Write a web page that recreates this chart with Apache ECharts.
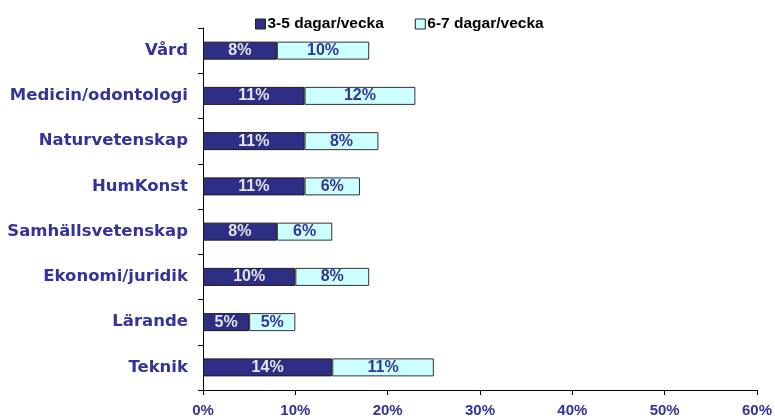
<!DOCTYPE html>
<html>
<head>
<meta charset="utf-8">
<style>
  html, body { margin: 0; padding: 0; background: #ffffff; }
  #chart { width: 775px; height: 420px; }
</style>
<script src="https://cdn.jsdelivr.net/npm/echarts@6/dist/echarts.min.js"></script>
</head>
<body>
<div id="chart"></div>
<script>
// Study areas, listed top to bottom
const categories = ['Vård', 'Medicin/odontologi', 'Naturvetenskap', 'HumKonst',
  'Samhällsvetenskap', 'Ekonomi/juridik', 'Lärande', 'Teknik'];
// Share of students (percent) per frequency group
const days35 = [8, 11, 11, 11, 8, 10, 5, 14];
const days67 = [10, 12, 8, 6, 6, 8, 5, 11];
const seriesNames = ['3-5 dagar/vecka', '6-7 dagar/vecka'];
const xTicks = [0, 10, 20, 30, 40, 50, 60];

const navy = '#333399';
const font = 'Arial, "Liberation Sans", sans-serif';
const wideFont = '"DejaVu Sans", Arial, sans-serif';

const chart = echarts.init(document.getElementById('chart'), null, { renderer: 'canvas' });
chart.setOption({
  animation: false,
  backgroundColor: '#ffffff',
  textStyle: { fontFamily: font },
  legend: {
    top: 11,
    left: 250,
    itemGap: 31,
    itemWidth: 10,
    itemHeight: 10,
    icon: 'rect',
    itemStyle: { borderColor: '#222', borderWidth: 1 },
    textStyle: { fontFamily: font, fontWeight: 'bold', fontSize: 15.5, color: '#000', padding: [0, 0, 0, -3] },
    data: seriesNames
  },
  grid: { left: 203, right: 17, top: 28, bottom: 30, containLabel: false },
  xAxis: {
    type: 'value',
    min: xTicks[0],
    max: xTicks[xTicks.length - 1],
    interval: 10,
    splitLine: { show: false },
    axisLine: { show: true, lineStyle: { color: '#000', width: 1 } },
    axisTick: { show: true, length: 5, lineStyle: { color: '#000' } },
    axisLabel: {
      formatter: '{value}%', margin: 13,
      fontFamily: font, fontWeight: 'bold', fontSize: 15, color: navy
    }
  },
  yAxis: {
    type: 'category',
    inverse: true,
    data: categories,
    axisLine: { show: true, lineStyle: { color: '#000', width: 1 } },
    axisTick: { show: true, length: 5, lineStyle: { color: '#000' } },
    axisLabel: { margin: 15, fontFamily: wideFont, fontWeight: 'bold', fontSize: 16.5, color: navy }
  },
  series: [
    {
      name: seriesNames[0],
      type: 'bar',
      stack: 'total',
      barWidth: 18,
      data: days35,
      itemStyle: { color: '#2e2e86', borderColor: '#1a1a1a', borderWidth: 1 },
      label: {
        show: true, position: 'inside', formatter: '{c}%',
        fontFamily: font, fontWeight: 'bold', fontSize: 16, color: '#e4e4f0'
      }
    },
    {
      name: seriesNames[1],
      type: 'bar',
      stack: 'total',
      barWidth: 18,
      data: days67,
      itemStyle: { color: '#ccffff', borderColor: '#333333', borderWidth: 1 },
      label: {
        show: true, position: 'inside', formatter: '{c}%',
        fontFamily: font, fontWeight: 'bold', fontSize: 16, color: navy
      }
    }
  ]
});
</script>
</body>
</html>
